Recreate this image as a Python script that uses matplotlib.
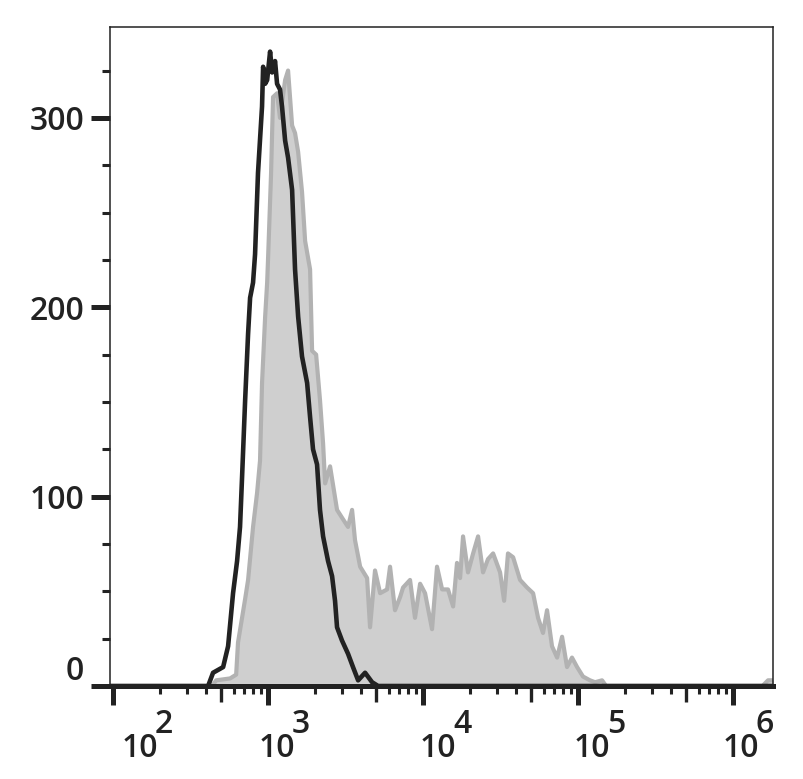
import numpy as np
import matplotlib
matplotlib.use("Agg")
import matplotlib.pyplot as plt
import matplotlib.transforms as mtransforms
from matplotlib.ticker import FixedLocator, NullFormatter

plt.rcParams['font.family'] = ['Open Sans', 'DejaVu Sans']

# ---- data: log10 fluorescence intensity and event counts ----
stained_log = [1.98, 2.594, 2.639, 2.665, 2.755, 2.794, 2.806, 2.852, 2.871, 2.903, 2.929, 2.948,
               2.961, 2.981, 2.994, 3.000, 3.019, 3.032, 3.058, 3.077, 3.110, 3.129, 3.155,
               3.174, 3.194, 3.219, 3.239, 3.271, 3.284, 3.310, 3.335, 3.355, 3.368, 3.400,
               3.445, 3.484, 3.516, 3.542, 3.561, 3.594, 3.639, 3.658, 3.690, 3.723, 3.768,
               3.787, 3.819, 3.852, 3.871, 3.916, 3.948, 3.981, 4.013, 4.058, 4.090, 4.123,
               4.161, 4.194, 4.219, 4.239, 4.258, 4.290, 4.323, 4.355, 4.387, 4.419, 4.452,
               4.497, 4.523, 4.548, 4.581, 4.626, 4.671, 4.710, 4.742, 4.774, 4.800, 4.832,
               4.865, 4.897, 4.929, 4.961, 4.994, 5.032, 5.077, 5.110, 5.155, 5.181, 6.190,
               6.226, 6.258]
stained_count = [0, 0, 0, 3, 4, 6, 23, 46, 56, 84, 102, 119,
                 160, 195, 213, 226, 270, 311, 313, 300, 320, 325, 296,
                 292, 282, 261, 235, 220, 177, 175, 151, 128, 107, 116,
                 93, 88, 84, 93, 77, 63, 57, 31, 61, 49, 51,
                 63, 40, 47, 52, 56, 36, 54, 49, 30, 63, 51,
                 51, 42, 65, 57, 79, 60, 70, 79, 60, 67, 70,
                 60, 45, 70, 68, 56, 52, 49, 36, 28, 40, 21,
                 15, 26, 10, 15, 10, 5, 3, 2, 3, 0, 0,
                 3, 3]

control_log = [1.98, 2.613, 2.645, 2.710, 2.742, 2.774, 2.800, 2.819, 2.832, 2.852, 2.871, 2.884,
               2.903, 2.916, 2.935, 2.961, 2.968, 2.981, 2.994, 3.013, 3.026, 3.045, 3.058,
               3.077, 3.090, 3.110, 3.129, 3.155, 3.174, 3.194, 3.219, 3.252, 3.271, 3.290,
               3.316, 3.335, 3.355, 3.387, 3.413, 3.432, 3.445, 3.477, 3.516, 3.548, 3.581,
               3.626, 3.671, 3.710, 6.258]
control_count = [0, 0, 7, 10, 21, 49, 66, 84, 110, 151, 186, 205,
                 213, 228, 271, 306, 327, 318, 320, 335, 324, 330, 318,
                 315, 306, 288, 279, 262, 220, 195, 174, 160, 142, 125,
                 117, 93, 79, 66, 58, 45, 31, 24, 17, 10, 3,
                 7, 2, 0, 0]

x_major_exp = [2, 3, 4, 5, 6]
y_major = [0, 100, 200, 300]
y_labels = ["0", "100", "200", "300"]

# ---- figure ----
W, H = 804, 779
fig = plt.figure(figsize=(W / 100, H / 100), dpi=100)
ax = fig.add_axes([110 / W, 1 - 686 / H, (773 - 110) / W, (686 - 27) / H])

sx = 10 ** np.array(stained_log)
cx = 10 ** np.array(control_log)
ax.fill_between(sx, stained_count, 0, color='#cfcfcf', lw=0, zorder=1)
ax.plot(sx, stained_count, color='#b2b2b2', lw=3.0, zorder=2)
ax.plot(cx, control_count, color='#222222', lw=3.3, zorder=3)

ax.set_xscale('log')
ax.set_xlim(10 ** 1.98, 10 ** 6.258)
ax.set_ylim(0, 348)

dark = '#222222'
for s in ['left', 'top', 'right']:
    ax.spines[s].set_linewidth(1.1)
    ax.spines[s].set_color(dark)
ax.spines['bottom'].set_linewidth(3.6)
ax.spines['bottom'].set_color(dark)
ax.spines['bottom'].set_zorder(5)

# x ticks
ax.xaxis.set_major_locator(FixedLocator([10.0 ** e for e in x_major_exp]))
minors = [m * 10.0 ** e for e in range(1, 7) for m in (2, 3, 4, 6, 7, 8, 9)]
ax.xaxis.set_minor_locator(FixedLocator(minors))
ax.xaxis.set_major_formatter(NullFormatter())
ax.xaxis.set_minor_formatter(NullFormatter())
ax.tick_params(axis='x', which='major', direction='out', length=13.5, width=3.6, color=dark)
ax.tick_params(axis='x', which='minor', direction='out', length=6.0, width=2.2, color=dark)
# medium ticks at 5x
trans = mtransforms.blended_transform_factory(ax.transData, ax.transAxes)
axes_h = 686 - 27
for e in range(1, 7):
    xv = 5 * 10.0 ** e
    if 10 ** 1.98 < xv < 10 ** 6.258:
        ax.plot([xv, xv], [0, -16 / axes_h], transform=trans, color=dark, lw=2.4,
                clip_on=False, solid_capstyle='butt', zorder=6)

# y ticks
ax.yaxis.set_major_locator(FixedLocator(y_major))
ax.yaxis.set_minor_locator(FixedLocator(np.arange(25, 348, 25)))
ax.yaxis.set_major_formatter(NullFormatter())
ax.tick_params(axis='y', which='major', direction='out', length=13.5, width=3.6, color=dark)
ax.tick_params(axis='y', which='minor', direction='out', length=5.8, width=2.2, color=dark)

# y labels (manual, to mimic positions)
ylab_off = {0: 14, 100: -4, 200: -4, 300: -4}
for v, lab in zip(y_major, y_labels):
    t = mtransforms.offset_copy(ax.transData, fig=fig, x=0, y=ylab_off[v], units='dots')
    t2 = mtransforms.blended_transform_factory(fig.transFigure, t)
    ax.text(84 / W, v, lab, transform=t2, ha='right', va='center', fontsize=23,
            color=dark, fontweight='semibold')

# x labels: "10" + superscript exponent
label_centers_px = [140, 277, 438, 592, 741]
for e, cpx in zip(x_major_exp, label_centers_px):
    fx = cpx / W
    fig.text(fx, 1 - 757 / H, "10", ha='center', va='baseline', fontsize=23, color=dark,
             fontweight='semibold')
    fig.text(fx + 15 / W, 1 - 733 / H, str(e), ha='left', va='baseline', fontsize=23,
             color=dark, fontweight='semibold')

fig.savefig("out.png", dpi=100)
